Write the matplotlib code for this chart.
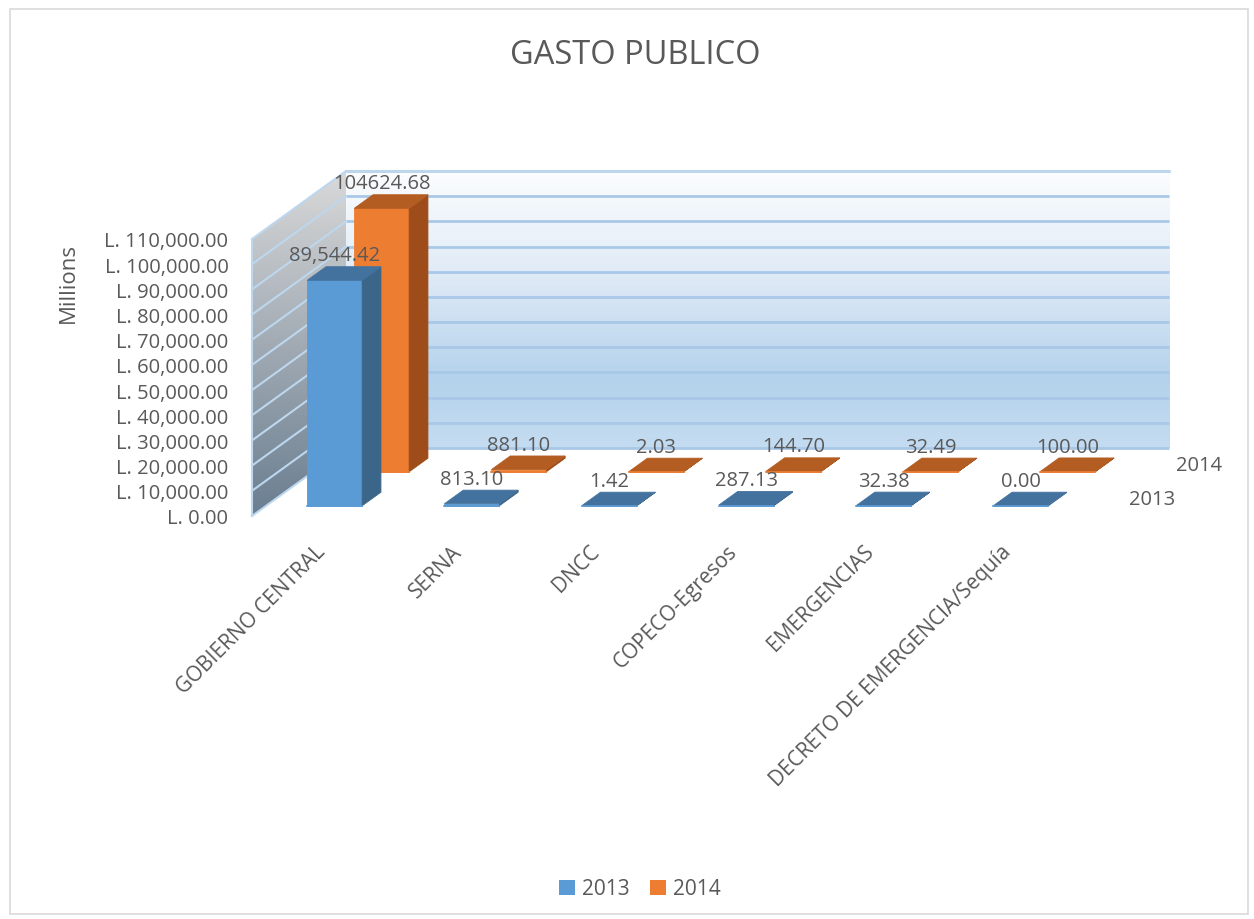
import numpy as np
import matplotlib
matplotlib.use("Agg")
import matplotlib.pyplot as plt
from matplotlib.patches import Polygon, Rectangle
from matplotlib.colors import LinearSegmentedColormap
from matplotlib.ticker import FuncFormatter
import matplotlib.transforms as mtransforms

# ---------------- data ----------------
categories = ["GOBIERNO CENTRAL", "SERNA", "DNCC", "COPECO-Egresos",
              "EMERGENCIAS", "DECRETO DE EMERGENCIA/Sequía"]
series_names = ["2013", "2014"]
values_2013 = [89544.42, 813.10, 1.42, 287.13, 32.38, 0.00]
values_2014 = [104624.68, 881.10, 2.03, 144.70, 32.49, 100.00]
labels_2013 = ["89,544.42", "813.10", "1.42", "287.13", "32.38", "0.00"]
labels_2014 = ["104624.68", "881.10", "2.03", "144.70", "32.49", "100.00"]
y_ticks = list(range(0, 110001, 10000))
title = "GASTO PUBLICO"
y_label = "Millions"

# ---------------- style ----------------
plt.rcParams['font.family'] = ['Open Sans', 'DejaVu Sans']
TXT = "#595959"
front_cols = ["#5B9BD5", "#ED7D31"]
side_cols = ["#3C6689", "#9E4D1A"]
top_cols = ["#44729E", "#B45D22"]
grid_col = "#A9C8E8"

W, H, DPI = 1254, 920, 100
fig = plt.figure(figsize=(W / DPI, H / DPI), dpi=DPI)
ax = fig.add_axes([0, 0, 1, 1])

# layout of the pseudo-3D box (pixel geometry -> data scales)
x0_px, y0_px = 252.0, 517.0          # front-left corner of floor
slot_px = 137.2                      # category slot width
vmax = 110000.0
vscale = 277.0 / vmax                # px per value unit
ax.set_xlim(-x0_px / slot_px, (W - x0_px) / slot_px)
ax.set_ylim(-(H - y0_px) / vscale, y0_px / vscale)
DX = 94.0 / slot_px                  # full depth, in category units
DY = 68.0 / vscale                   # full depth, in value units
n = len(categories)


def P(x, v, d):
    return (x + d * DX, v + d * DY)


# back wall gradient
back_cmap = LinearSegmentedColormap.from_list(
    "back", [(0, "#FBFDFE"), (0.35, "#E2ECF7"), (0.75, "#B4D2EC"), (1.0, "#C4DCF1")])
grad = np.linspace(0, 1, 256).reshape(-1, 1)
ax.imshow(grad, cmap=back_cmap, extent=(DX, n + DX, DY, vmax + DY),
          aspect='auto', zorder=0, interpolation='bilinear')

# side wall gradient clipped to parallelogram
side_cmap = LinearSegmentedColormap.from_list(
    "side", [(0, "#D9D9D9"), (0.5, "#A2ABB4"), (1.0, "#6A7E90")])
side_poly = Polygon([P(0, 0, 0), P(0, 0, 1), P(0, vmax, 1), P(0, vmax, 0)],
                    closed=True, facecolor='none', edgecolor='none',
                    transform=ax.transData)
ax.add_patch(side_poly)
im = ax.imshow(grad, cmap=side_cmap, extent=(0, DX, 0, vmax + DY),
               aspect='auto', zorder=0, interpolation='bilinear')
im.set_clip_path(side_poly)

# gridlines
for v in y_ticks:
    a, b = P(0, v, 1), P(n, v, 1)
    ax.plot([a[0], b[0]], [a[1], b[1]], color=grid_col, lw=2, zorder=1,
            solid_capstyle='butt')
    c = P(0, v, 0)
    ax.plot([c[0], a[0]], [c[1], a[1]], color="#BDD7EE", lw=1.5, zorder=1)
# side wall outline
ax.plot([P(0, 0, 0)[0], P(0, vmax, 0)[0]], [0, vmax], color="#BDD7EE", lw=1.5, zorder=1)
ax.plot([P(0, vmax, 1)[0], P(n, vmax, 1)[0]], [vmax + DY, vmax + DY],
        color="#BDD7EE", lw=2, zorder=1)


# bars
def draw_bar(i, v, s):
    d0, d1 = (s + 0.3) / 2, (s + 0.7) / 2
    xl, xr = i + 0.3, i + 0.7
    front = [P(xl, 0, d0), P(xr, 0, d0), P(xr, v, d0), P(xl, v, d0)]
    side = [P(xr, 0, d0), P(xr, 0, d1), P(xr, v, d1), P(xr, v, d0)]
    top = [P(xl, v, d0), P(xr, v, d0), P(xr, v, d1), P(xl, v, d1)]
    z = 5 - s
    for poly, col in ((front, front_cols[s]), (side, side_cols[s]), (top, top_cols[s])):
        ax.add_patch(Polygon(poly, closed=True, facecolor=col, edgecolor=col,
                             lw=0.6, zorder=z))
    # light front edge line on the bar base
    a, b = P(xl, 0, d0), P(xr, 0, d0)
    ax.plot([a[0], b[0]], [a[1], b[1]], color=front_cols[s], lw=1.2, zorder=z + 0.1)
    return P(i + 0.5, v, d0)


all_vals = [values_2013, values_2014]
all_labels = [labels_2013, labels_2014]
for s in (1, 0):
    for i in range(n):
        cx, cy = draw_bar(i, all_vals[s][i], s)
        ax.annotate(all_labels[s][i], xy=(cx, cy), xytext=(0, 18),
                    textcoords='offset points', ha='center', va='center',
                    fontsize=14.5, color=TXT, zorder=10)

# series (depth) axis labels
for s, name in enumerate(series_names):
    px, py = P(n, 0, (s + 0.5) / 2)
    ax.annotate(name, xy=(px, py), xytext=(22, 0), textcoords='offset points',
                ha='left', va='center', fontsize=14.5, color=TXT)

# value axis ticks (library axis, spine moved to wall front edge)
for sp in ax.spines.values():
    sp.set_color('none')
ax.spines['left'].set_position(('data', 0))
ax.spines['bottom'].set_position(('data', 0))
ax.set_yticks(y_ticks)
ax.yaxis.set_major_formatter(FuncFormatter(lambda v, p: "L. {:,.2f}".format(v)))
ax.tick_params(axis='y', length=0, pad=17, labelsize=14.5, labelcolor=TXT)

# category axis
ax.set_xticks([i + 0.5 for i in range(n)])
ax.set_xticklabels(categories)
ax.tick_params(axis='x', length=0, pad=23, labelsize=15, labelcolor=TXT)
off = mtransforms.ScaledTranslation(1 / 72, 0, fig.dpi_scale_trans)
for lab in ax.get_xticklabels():
    lab.set_rotation(45)
    lab.set_ha('right')
    lab.set_va('center')
    lab.set_rotation_mode('anchor')
    lab.set_transform(lab.get_transform() + off)

# legend
handles = [Rectangle((0, 0), 1, 1, facecolor=front_cols[s], edgecolor='none')
           for s in range(2)]
ax.legend(handles, series_names, loc='center', bbox_to_anchor=(640 / W, 1 - 890 / H),
          bbox_transform=fig.transFigure, ncol=2, frameon=False, fontsize=15,
          handlelength=0.75, handleheight=0.75, handletextpad=0.35,
          columnspacing=1.0, labelcolor=TXT)

# title and axis title
fig.text(635 / W, 1 - 55 / H, title, ha='center', va='center', fontsize=23.5, color=TXT)
fig.text(68 / W, 1 - 283 / H, y_label, rotation=90, ha='center', va='center',
         fontsize=16, color=TXT)

# chart border
fig.patches.append(Rectangle((10 / W, 5 / H), 1238 / W, 905 / H, transform=fig.transFigure,
                             facecolor='none', edgecolor='#D9D9D9', lw=1.2))

ax.set_xlim(-x0_px / slot_px, (W - x0_px) / slot_px)
ax.set_ylim(-(H - y0_px) / vscale, y0_px / vscale)
fig.savefig("out.png", dpi=DPI)
